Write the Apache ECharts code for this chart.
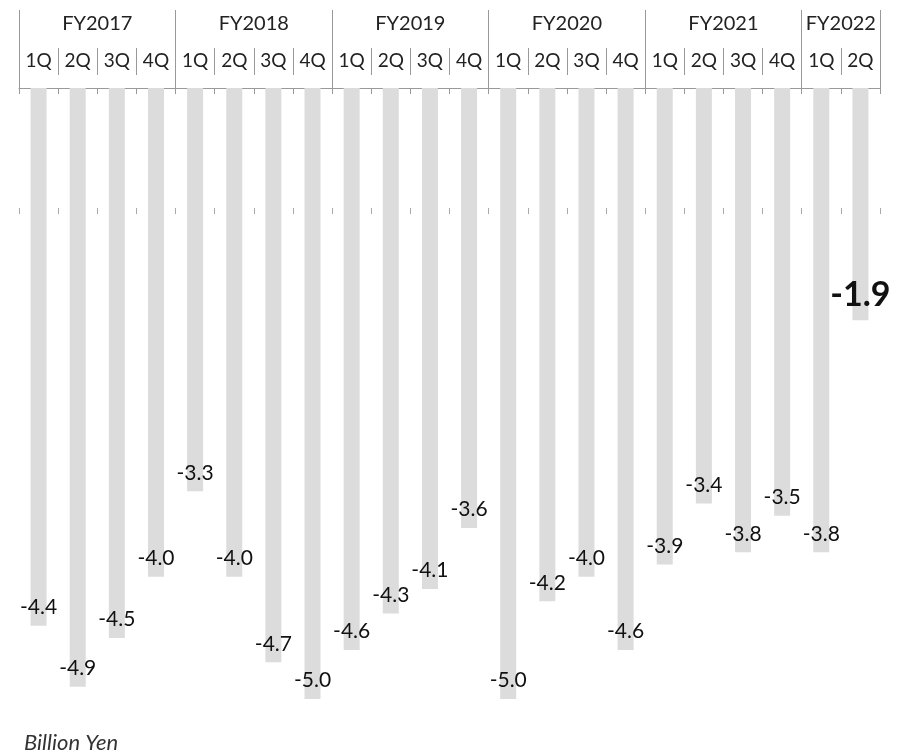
<!DOCTYPE html>
<html>
<head>
<meta charset="utf-8">
<script src="https://cdn.jsdelivr.net/npm/echarts@6/dist/echarts.min.js"></script>
<style>
html,body{margin:0;padding:0;background:#fff;}
#main{width:901px;height:755px;}
</style>
</head>
<body>
<div id="main"></div>
<script>
var quarters = ['1Q','2Q','3Q','4Q','1Q','2Q','3Q','4Q','1Q','2Q','3Q','4Q','1Q','2Q','3Q','4Q','1Q','2Q','3Q','4Q','1Q','2Q'];
var years = ['FY2017','FY2018','FY2019','FY2020','FY2021','FY2022'];
var yearQuarterCounts = [4,4,4,4,4,2];
var values = [-4.4,-4.9,-4.5,-4.0, -3.3,-4.0,-4.7,-5.0, -4.6,-4.3,-4.1,-3.6, -5.0,-4.2,-4.0,-4.6, -3.9,-3.4,-3.8,-3.5, -3.8,-1.9];
var unitLabel = 'Billion Yen';

var FONT = 'Lato, "Noto Sans", sans-serif';

// Year axis: boundary points 0..N, labels at middle of each year span
var nQ = quarters.length;
var pts = [], yearLabelAt = {}, boundaryAt = {0:true};
var acc = 0;
for (var i = 0; i < years.length; i++) {
  var mid = acc + yearQuarterCounts[i] / 2;
  yearLabelAt[mid] = years[i];
  acc += yearQuarterCounts[i];
  boundaryAt[acc] = true;
}
for (var p = 0; p <= nQ; p++) pts.push(yearLabelAt[p] || '');

var lastIdx = values.length - 1;
var barData = values.map(function (v, i) {
  if (i === lastIdx) {
    return { value: v, label: { fontSize: 34, fontWeight: 'bold', color: '#111', distance: 8 } };
  }
  return v;
});

var chart = echarts.init(document.getElementById('main'));
chart.setOption({
  animation: false,
  backgroundColor: '#fff',
  grid: { left: 19, right: 21, top: 88, bottom: 56 },
  xAxis: [
    { // main quarter axis (top line with small inward ticks)
      type: 'category', data: quarters, position: 'top', offset: 0,
      axisLine: { show: true, lineStyle: { color: '#999', width: 1 } },
      axisTick: { show: true, inside: true, length: 6, interval: 0, lineStyle: { color: '#999' } },
      axisLabel: { show: false }
    },
    { // quarter labels with separators
      type: 'category', data: quarters, position: 'top', offset: 13,
      axisLine: { show: false },
      axisTick: { show: true, length: 27, interval: 0, lineStyle: { color: '#999' } },
      axisLabel: { show: true, interval: 0, margin: 5, fontSize: 19, color: '#222', fontFamily: FONT }
    },
    { // year labels with long separators
      type: 'category', data: pts, boundaryGap: false, position: 'top', offset: 0,
      axisLine: { show: false },
      axisTick: { show: true, length: 78, interval: function (idx) { return !!boundaryAt[idx]; }, lineStyle: { color: '#999' } },
      axisLabel: { show: true, margin: 54, fontSize: 20, color: '#222', fontFamily: FONT,
        interval: function (idx, val) { return val !== ''; } }
    },
    { // small ticks row in the middle
      type: 'category', data: quarters, position: 'top', offset: -126,
      axisLine: { show: false },
      axisTick: { show: true, length: 6, interval: 0, lineStyle: { color: '#aaa' } },
      axisLabel: { show: false }
    }
  ],
  yAxis: { type: 'value', min: -5, max: 0, show: false, splitLine: { show: false } },
  graphic: [{
    type: 'text', left: 24, top: 732,
    style: { text: unitLabel, font: 'italic 22px ' + FONT, fill: '#333' }
  }],
  series: [{
    type: 'bar', xAxisIndex: 0, data: barData, barWidth: 16,
    itemStyle: { color: '#dcdcdc' },
    label: {
      show: true, position: 'insideBottom', distance: 8,
      fontSize: 21, color: '#111', fontFamily: FONT,
      formatter: function (p) { return p.value.toFixed(1); }
    }
  }]
});
</script>
</body>
</html>
